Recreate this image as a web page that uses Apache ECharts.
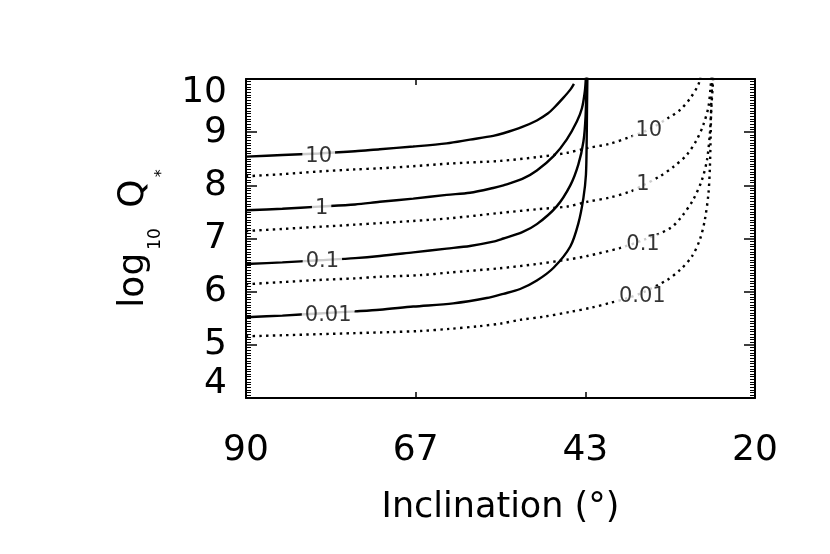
<!DOCTYPE html>
<html lang="en">

<head>
  <meta charset="UTF-8">
  <script src="https://cdn.jsdelivr.net/npm/echarts@6/dist/echarts.min.js"></script>
  <title>log10 Q* vs inclination</title>
  <style>
    html,
    body,
    main {
      height: 100%;
      width: 100%;
      padding: 0;
      margin: 0;
      background: #fff;
    }
  </style>
</head>

<body>
  <main></main>
</body>
<script>
  // [inclination (deg), log10 Q*]
  const solid10 = [[90, 8.54], [85, 8.57], [80, 8.6], [75, 8.64], [71.6, 8.68], [67, 8.73], [62.4, 8.79], [59.2, 8.86], [56, 8.93], [54.6, 8.98], [52, 9.1], [50, 9.22], [48.5, 9.35], [47.7, 9.45], [46.4, 9.64], [45.4, 9.8], [44.9, 9.91]]
  const solid1 = [[90, 7.53], [85, 7.56], [80, 7.6], [75, 7.64], [71.6, 7.69], [67, 7.75], [62.4, 7.82], [59.2, 7.86], [56, 7.95], [54.6, 8.0], [52, 8.12], [50, 8.28], [47.7, 8.55], [45.9, 8.86], [44.5, 9.2], [43.8, 9.45], [43.4, 9.77], [43.25, 10.05]]
  const solid01 = [[90, 6.52], [85, 6.55], [80, 6.59], [75, 6.63], [71.6, 6.67], [67, 6.74], [62.4, 6.81], [59.2, 6.86], [56, 6.94], [54.6, 7.0], [52, 7.12], [50, 7.27], [47.3, 7.6], [45.4, 8.0], [44.3, 8.39], [43.6, 8.82], [43.3, 9.3], [43.15, 10.05]]
  const solid001 = [[90, 5.52], [85, 5.55], [80, 5.59], [75, 5.63], [71.6, 5.66], [67, 5.72], [61.5, 5.78], [56.9, 5.88], [54.6, 5.96], [52.3, 6.05], [50, 6.21], [47.7, 6.45], [45.4, 6.85], [44.3, 7.28], [43.6, 7.76], [43.25, 8.2], [43.15, 8.82], [43.1, 9.5], [43.05, 10.05]]

  const dotted10 = [[90, 8.17], [85, 8.21], [80, 8.26], [75, 8.3], [71.6, 8.32], [67, 8.36], [62, 8.41], [55, 8.46], [50, 8.53], [45.9, 8.61], [43.1, 8.7], [40, 8.78], [37.2, 8.91], [34.6, 9.05], [31.9, 9.27], [30.3, 9.42], [28.9, 9.64], [27.8, 9.89], [27.5, 10.05]]
  const dotted1 = [[90, 7.14], [85, 7.18], [80, 7.22], [75, 7.26], [71.6, 7.29], [67, 7.33], [62, 7.38], [55.1, 7.48], [50, 7.55], [45.9, 7.6], [43.1, 7.69], [40, 7.77], [37.2, 7.88], [35.4, 8.0], [33.1, 8.17], [31.2, 8.35], [29.4, 8.57], [28.0, 8.86], [27.1, 9.14], [26.4, 9.48], [26.1, 9.86], [26.0, 10.05]]
  const dotted01 = [[90, 6.14], [85, 6.18], [80, 6.22], [75, 6.25], [71.6, 6.28], [66.1, 6.31], [62, 6.36], [55.1, 6.44], [50, 6.52], [45.9, 6.6], [43.1, 6.67], [38.6, 6.82], [35.4, 6.97], [31.7, 7.19], [30.1, 7.41], [28.5, 7.73], [27.3, 8.1], [26.6, 8.48], [26.2, 8.98], [26.0, 9.48], [25.8, 9.89], [25.75, 10.05]]
  const dotted001 = [[90, 5.16], [85, 5.18], [80, 5.2], [75, 5.22], [70, 5.24], [66.1, 5.26], [62, 5.3], [58, 5.35], [55, 5.4], [52.3, 5.47], [49, 5.53], [45.4, 5.62], [42.5, 5.7], [39.9, 5.79], [37.5, 5.88], [35.5, 5.98], [32.1, 6.22], [30.3, 6.41], [28.7, 6.66], [27.6, 6.97], [26.9, 7.35], [26.4, 7.85], [26.2, 8.35], [26.1, 8.92], [26.0, 9.61], [25.9, 9.89], [25.85, 10.05]]

  // inline contour labels [inclination, log10 Q*, text]
  const solidLabels = [[80.0, 8.54, '10'], [79.6, 7.57, '1'], [79.5, 6.56, '0.1'], [78.7, 5.55, '0.01']]
  const dottedLabels = [[34.6, 9.03, '10'], [35.4, 8.01, '1'], [35.4, 6.88, '0.1'], [35.5, 5.91, '0.01']]

  const xTickLabels = [90, 67, 43, 20]

  // x axis runs 90 -> 20 left to right; plotted as (90 - incl) so ticks count from 0
  const toXY = (pts) => pts.map((p) => [90 - p[0], p[1]])

  const FONT = 'DejaVu Sans'
  const BLACK = '#000'

  const solidSeries = [solid10, solid1, solid01, solid001].map((d) => ({
    type: 'line',
    data: toXY(d),
    showSymbol: false,
    smooth: 0.3,
    lineStyle: { color: BLACK, width: 2.4 },
    z: 2
  }))
  const dottedSeries = [dotted10, dotted1, dotted01, dotted001].map((d) => ({
    type: 'line',
    data: toXY(d),
    showSymbol: false,
    smooth: 0.3,
    lineStyle: { color: BLACK, width: 2.4, type: [2.4, 4.3] },
    z: 2
  }))
  const labelSeries = {
    type: 'scatter',
    symbolSize: 0,
    z: 5,
    data: [...solidLabels, ...dottedLabels].map((p) => [90 - p[0], p[1], p[2]]),
    label: {
      show: true,
      position: 'inside',
      formatter: (p) => p.value[2],
      fontFamily: FONT,
      fontSize: 21,
      color: BLACK,
      backgroundColor: '#fff',
      padding: [0, 3]
    }
  }

  const xCommon = () => ({
    type: 'value',
    min: 0,
    max: 70,
    interval: 70 / 3,
    splitLine: { show: false },
    axisLine: { onZero: false, lineStyle: { color: BLACK, width: 2 } },
    axisTick: { inside: true, length: 6, lineStyle: { color: BLACK, width: 1.5 } }
  })
  const yCommon = () => ({
    type: 'value',
    min: 4,
    max: 10,
    interval: 1,
    splitLine: { show: false },
    axisLine: { show: true, onZero: false, lineStyle: { color: BLACK, width: 2 } },
    axisTick: { show: true, inside: true, length: 11, lineStyle: { color: BLACK, width: 1.5 } },
    minorTick: { show: true, splitNumber: 20, length: 5, lineStyle: { color: BLACK, width: 1 } },
    minorSplitLine: { show: false }
  })

  const option = {
    backgroundColor: '#fff',
    animation: false,
    grid: { left: 246, right: 75, top: 79, bottom: 156 },
    xAxis: [
      {
        ...xCommon(),
        position: 'bottom',
        axisLabel: {
          margin: 35,
          fontFamily: FONT,
          fontSize: 36,
          color: BLACK,
          showMinLabel: true,
          showMaxLabel: true,
          formatter: (v) => xTickLabels[Math.round(v / (70 / 3))]
        },
        name: 'Inclination (°)',
        nameLocation: 'middle',
        nameGap: 92,
        nameTextStyle: { fontFamily: FONT, fontSize: 35, color: BLACK }
      },
      {
        ...xCommon(),
        position: 'top',
        axisLabel: { show: false }
      }
    ],
    yAxis: [
      {
        ...yCommon(),
        position: 'left',
        axisLabel: {
          margin: 19,
          fontFamily: FONT,
          fontSize: 36,
          lineHeight: 28,
          color: BLACK,
          showMinLabel: true,
          showMaxLabel: true,
          verticalAlignMinLabel: 'bottom',
          verticalAlignMaxLabel: 'top'
        },
        name: '{a|log}{b|10}{a| Q}{c|*}',
        nameLocation: 'middle',
        nameRotate: 90,
        nameGap: 90,
        nameTextStyle: {
          color: BLACK,
          rich: {
            a: { fontFamily: FONT, fontSize: 36, lineHeight: 40, verticalAlign: 'top', color: BLACK },
            b: { fontFamily: FONT, fontSize: 17, lineHeight: 16, verticalAlign: 'top', padding: [31, 9, 0, 3], color: BLACK },
            c: { fontFamily: FONT, fontSize: 16, lineHeight: 16, verticalAlign: 'top', padding: [38, 0, 0, 2], color: BLACK }
          }
        }
      },
      {
        ...yCommon(),
        position: 'right',
        axisLabel: { show: false }
      }
    ],
    series: [...solidSeries, ...dottedSeries, labelSeries]
  }

  const ins = echarts.init(document.getElementsByTagName('main')[0], null, { renderer: 'canvas' })
  ins.setOption(option)
</script>

</html>
